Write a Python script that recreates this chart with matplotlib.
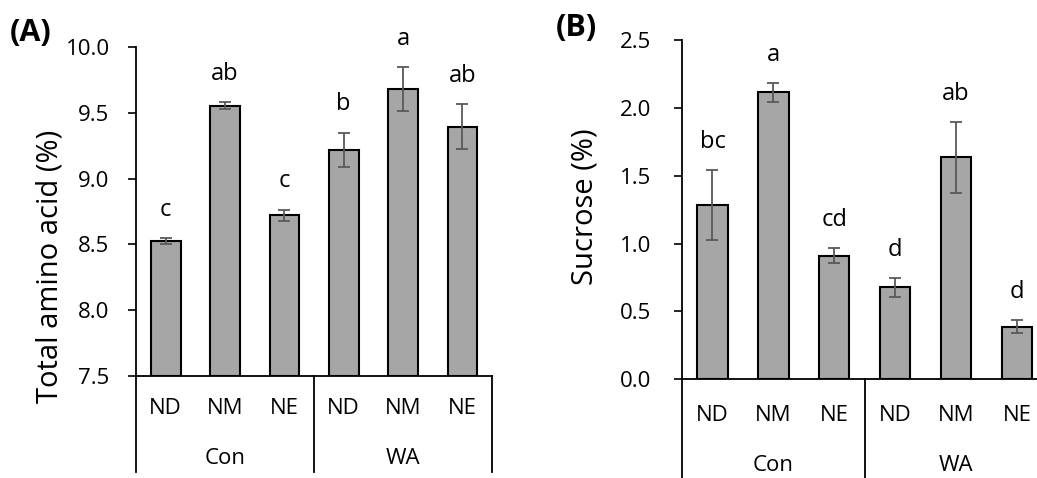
import matplotlib
matplotlib.use("Agg")
import matplotlib.pyplot as plt
import numpy as np

plt.rcParams['font.family'] = ['Open Sans', 'DejaVu Sans']

treatments = ["ND", "NM", "NE", "ND", "NM", "NE"]
groups = ["Con", "WA"]

amino_vals = [8.525, 9.555, 8.72, 9.22, 9.68, 9.395]
amino_err = [0.025, 0.025, 0.045, 0.13, 0.17, 0.17]
amino_letters = ["c", "ab", "c", "b", "a", "ab"]

sucrose_vals = [1.285, 2.115, 0.91, 0.678, 1.635, 0.388]
sucrose_err = [0.255, 0.07, 0.055, 0.07, 0.26, 0.05]
sucrose_letters = ["bc", "a", "cd", "d", "ab", "d"]

W, H = 1037, 478
fig = plt.figure(figsize=(W / 100, H / 100), dpi=100)

BAR_C = "#a6a6a6"
ERR_C = "#595959"


def panel(rect, vals, errs, letters, ylim, yticks, ylabel, lab_coords,
          cat_y, grp_y, tick_pad, sep_bottom):
    ax = fig.add_axes(rect)
    x = np.arange(len(vals))
    ax.bar(x, np.array(vals) - ylim[0], bottom=ylim[0], width=0.5,
           color=BAR_C, edgecolor="black", linewidth=1.5, zorder=2)
    ax.errorbar(x, vals, yerr=errs, fmt="none", ecolor=ERR_C,
                elinewidth=1.3, capsize=4, capthick=1.3, zorder=3)
    for xi, v, e, t in zip(x, vals, errs, letters):
        ax.annotate(t, (xi, v + e), xytext=(0, 16), textcoords="offset points",
                    ha="center", va="baseline", fontsize=17)
    ax.set_xlim(-0.5, len(vals) - 0.5)
    ax.set_ylim(*ylim)
    ax.set_yticks(yticks)
    ax.set_yticklabels([f"{t:.1f}" for t in yticks])
    ax.tick_params(axis="y", direction="out", length=6, width=1.2,
                   labelsize=16, pad=tick_pad)
    ax.set_xticks([])
    for s in ("top", "right"):
        ax.spines[s].set_visible(False)
    for s in ("left", "bottom"):
        ax.spines[s].set_linewidth(1.3)
    ax.set_ylabel(ylabel, fontsize=21, va="center")
    ax.yaxis.set_label_coords(*lab_coords)
    tr = ax.get_xaxis_transform()
    for xi, t in zip(x, treatments):
        ax.text(xi, cat_y, t, transform=tr, ha="center", va="center",
                fontsize=16)
    n = len(groups)
    per = len(vals) // n
    for gi, g in enumerate(groups):
        ax.text(gi * per + (per - 1) / 2, grp_y, g, transform=tr,
                ha="center", va="center", fontsize=16)
    for b in np.arange(n + 1) * per - 0.5:
        ax.plot([b, b], [0, sep_bottom], transform=tr, color="black",
                linewidth=1.3, clip_on=False)
    return ax


axA = panel([136 / W, 1 - 376 / H, 356 / W, 329 / H], amino_vals, amino_err,
            amino_letters, (7.5, 10.0), np.arange(7.5, 10.01, 0.5),
            "Total amino acid (%)", (-0.242, 0.333),
            -32 / 329, -82 / 329, 13, -96 / 329)

axB = panel([682 / W, 1 - 379.3 / H, 365.4 / W, 339.3 / H], sucrose_vals,
            sucrose_err, sucrose_letters, (0.0, 2.5), np.arange(0, 2.51, 0.5),
            "Sucrose (%)", (-0.2655, 0.508),
            -36 / 339.3, -86 / 339.3, 16, -110 / 339.3)

fig.text(31 / W, 1 - 33 / H, "(A)", fontsize=22, fontweight="bold",
         ha="center", va="center")
fig.text(576 / W, 1 - 28 / H, "(B)", fontsize=22, fontweight="bold",
         ha="center", va="center")

fig.savefig("out.png", dpi=100)
